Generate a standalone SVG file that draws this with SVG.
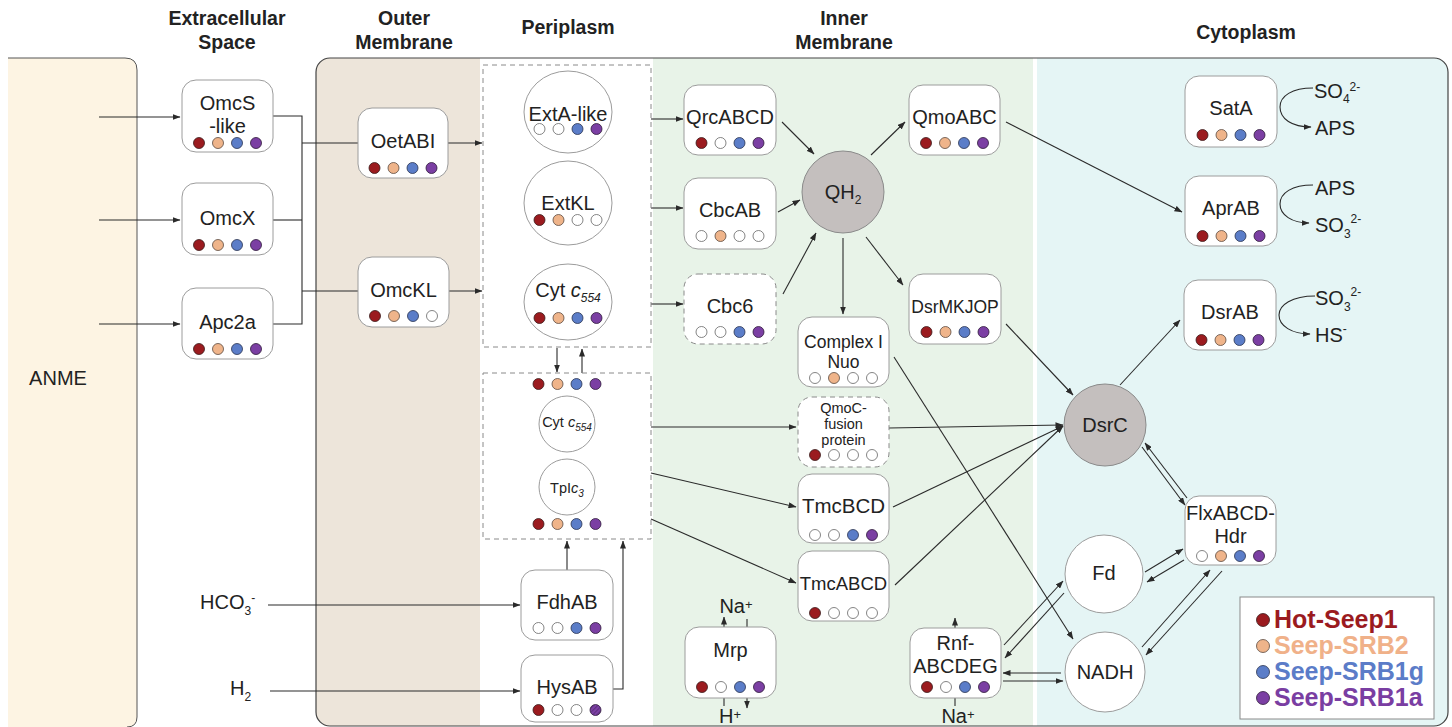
<svg xmlns="http://www.w3.org/2000/svg" width="1452" height="727" viewBox="0 0 1452 727">
<style>
text{font-family:"Liberation Sans",Arial,Helvetica,sans-serif;fill:#222;text-anchor:middle}
.hdr{font-weight:bold;font-size:19.5px}
.n{font-size:20px}
.s{font-size:12px}
.box{fill:#fff;stroke:#9c9c9c;stroke-width:1}
.dash{stroke-dasharray:5 4;stroke:#8a8a8a}
.gr{fill:#c4bfbe;stroke:#8a8a8a;stroke-width:1}
.wc{fill:#fff;stroke:#9c9c9c;stroke-width:1}
.R{fill:#9b1b1f;stroke:#3a1a1a;stroke-width:.8}
.O{fill:#efb48a;stroke:#5a4a40;stroke-width:.8}
.B{fill:#5b7dc8;stroke:#2a3350;stroke-width:.8}
.P{fill:#7b3fa3;stroke:#2e1a3a;stroke-width:.8}
.W{fill:#fff;stroke:#666;stroke-width:.8}
.H{fill:url(#hatch);stroke:#2e1a3a;stroke-width:.8}
.c{stroke:#2a2a2a;stroke-width:1.1;fill:none}
.a{marker-end:url(#ah)}
.leg{font-weight:bold;font-size:25px;text-anchor:start}
</style>
<defs>
<marker id="ah" markerWidth="8" markerHeight="6" refX="7.5" refY="3" orient="auto" markerUnits="userSpaceOnUse">
<path d="M0,0 L8,3 L0,6 z" fill="#2a2a2a"/>
</marker>
<pattern id="hatch" width="3" height="3" patternUnits="userSpaceOnUse" patternTransform="rotate(45)">
<rect width="3" height="3" fill="#7b3fa3"/>
<line x1="0" y1="0" x2="0" y2="3" stroke="#4a2366" stroke-width="1.2"/>
</pattern>
<clipPath id="cell"><rect x="316" y="58" width="1132" height="668" rx="14"/></clipPath>
</defs>

<g id="background">
<path d="M8 58 H125 Q137 58 137 70 V717 Q137 727 127 727 H8 Z" fill="#fdf4e3" stroke="none"/>
<path d="M8 58 H125 Q137 58 137 70 V717 Q137 727 127 727" fill="none" stroke="#555" stroke-width="1"/>
<g clip-path="url(#cell)">
<rect x="316" y="58" width="164" height="670" fill="#ede5da"/>
<rect x="480" y="58" width="173" height="670" fill="#ffffff"/>
<rect x="653" y="58" width="380" height="670" fill="#e8f3e8"/>
<rect x="1033" y="58" width="4" height="670" fill="#ffffff"/>
<rect x="1037" y="58" width="412" height="670" fill="#e5f5f5"/>
</g>
<rect x="316" y="58" width="1132" height="668" rx="14" fill="none" stroke="#444" stroke-width="1.2"/>
</g>

<g id="headers">
<text class="hdr" x="227" y="25">Extracellular</text>
<text class="hdr" x="227" y="49">Space</text>
<text class="hdr" x="404" y="25">Outer</text>
<text class="hdr" x="404" y="49">Membrane</text>
<text class="hdr" x="568" y="34">Periplasm</text>
<text class="hdr" x="844" y="25">Inner</text>
<text class="hdr" x="844" y="49">Membrane</text>
<text class="hdr" x="1246" y="39">Cytoplasm</text>
</g>

<g id="labels">
<text class="n" x="58" y="385">ANME</text>
<text class="n" x="200" y="609" style="text-anchor:start">HCO<tspan class="s" dy="6">3</tspan><tspan class="s" dy="-13">-</tspan></text>
<text class="n" x="230" y="695" style="text-anchor:start">H<tspan class="s" dy="6">2</tspan></text>
</g>

<g id="connectors">
<path class="c a" d="M99 117 H180"/>
<path class="c a" d="M99 220 H180"/>
<path class="c a" d="M99 324 H180"/>
<path class="c" d="M273 116 H302 V324 H273"/>
<path class="c" d="M273 220 H302"/>
<path class="c" d="M302 143 H358"/>
<path class="c" d="M302 291 H358"/>
<path class="c a" d="M448 143 H482"/>
<path class="c a" d="M449 291 H482"/>
<path class="c a" d="M557 348 V372"/>
<path class="c a" d="M582 373 V349"/>
<path class="c a" d="M567 570 V541"/>
<path class="c a" d="M613 689 H623 V541"/>
<path class="c a" d="M268 605 H520"/>
<path class="c a" d="M270 691 H520"/>
<path class="c a" d="M651 119 H683"/>
<path class="c a" d="M651 208 H683"/>
<path class="c a" d="M651 304 H683"/>
<path class="c a" d="M782 122 L814 154"/>
<path class="c a" d="M778 212 L800 200"/>
<path class="c a" d="M783 294 L816 233"/>
<path class="c a" d="M871 155 L905 122"/>
<path class="c a" d="M843 238 V314"/>
<path class="c a" d="M866 237 L903 285"/>
<path class="c a" d="M1006 122 L1182 212"/>
<path class="c a" d="M1006 324 L1073 395"/>
<path class="c a" d="M1120 385 L1180 320"/>
<path class="c a" d="M894 357 L1073 639"/>
<path class="c a" d="M651 427 H796"/>
<path class="c a" d="M651 473 L796 507"/>
<path class="c a" d="M651 519 L796 583"/>
<path class="c a" d="M889 428 L1063 425"/>
<path class="c a" d="M893 507 L1063 426"/>
<path class="c a" d="M895 585 L1063 426"/>
<path class="c a" d="M1004 645 L1063 581"/>
<path class="c a" d="M1064 593 L1005 658"/>
<path class="c a" d="M1061 673 H1003"/>
<path class="c a" d="M1003 681 H1063"/>
<path class="c a" d="M955 628 V618"/>
<path class="c" d="M955 698 V706"/>
<path class="c a" d="M724 627 V617"/>
<path class="c" d="M747 619 V627"/>
<path class="c" d="M724 698 V706"/>
<path class="c a" d="M747 698 V708"/>
<path class="c a" d="M1142 447 L1185 505"/>
<path class="c a" d="M1187 498 L1145 443"/>
<path class="c a" d="M1145 572 L1183 549"/>
<path class="c a" d="M1184 560 L1147 582"/>
<path class="c a" d="M1142 647 L1210 570"/>
<path class="c a" d="M1222 571 L1146 655"/>
<path class="c a" d="M1313 88 C1292 88 1280 96 1280 107 C1280 119 1292 127 1311 127"/>
<path class="c a" d="M1313 185 C1292 185 1280 193 1280 204 C1280 215 1292 223 1309 223"/>
<path class="c a" d="M1315 296 C1292 296 1279 305 1279 315 C1279 326 1292 334 1310 334"/>
</g>

<g id="species-labels">
<text class="n" x="1314" y="98" style="text-anchor:start">SO<tspan class="s" dy="5">4</tspan><tspan class="s" dy="-12">2-</tspan></text>
<text class="n" x="1315" y="135" style="text-anchor:start">APS</text>
<text class="n" x="1315" y="195" style="text-anchor:start">APS</text>
<text class="n" x="1315" y="232" style="text-anchor:start">SO<tspan class="s" dy="6">3</tspan><tspan class="s" dy="-15">2-</tspan></text>
<text class="n" x="1315" y="305" style="text-anchor:start">SO<tspan class="s" dy="6">3</tspan><tspan class="s" dy="-15">2-</tspan></text>
<text class="n" x="1315" y="342" style="text-anchor:start">HS<tspan class="s" dy="-9">-</tspan></text>
<text class="n" x="736" y="613">Na<tspan font-size="13" dy="-4">+</tspan></text>
<text class="n" x="730" y="723">H<tspan font-size="13" dy="-4">+</tspan></text>
<text class="n" x="958" y="723">Na<tspan font-size="13" dy="-4">+</tspan></text>
</g>

<g id="OmcS-like"><rect class="box" x="182" y="80" width="91" height="72" rx="14"/><text class="n" x="227.5" y="110">OmcS</text><text class="n" x="227.5" y="133">-like</text>
<circle class="R" cx="199" cy="143" r="5.5"/><circle class="O" cx="218" cy="143" r="5.5"/><circle class="B" cx="237" cy="143" r="5.5"/><circle class="P" cx="256" cy="143" r="5.5"/></g>
<g id="OmcX"><rect class="box" x="182" y="183" width="91" height="72" rx="14"/><text class="n" x="227.5" y="225">OmcX</text>
<circle class="R" cx="199" cy="245" r="5.5"/><circle class="O" cx="218" cy="245" r="5.5"/><circle class="B" cx="237" cy="245" r="5.5"/><circle class="P" cx="256" cy="245" r="5.5"/></g>
<g id="Apc2a"><rect class="box" x="182" y="288" width="91" height="71" rx="14"/><text class="n" x="227.5" y="329">Apc2a</text>
<circle class="R" cx="199" cy="349" r="5.5"/><circle class="O" cx="218" cy="349" r="5.5"/><circle class="B" cx="237" cy="349" r="5.5"/><circle class="P" cx="256" cy="349" r="5.5"/></g>
<g id="OetABI"><rect class="box" x="358" y="108" width="90" height="70" rx="14"/><text class="n" x="403" y="148">OetABI</text>
<circle class="R" cx="374.5" cy="168" r="5.5"/><circle class="O" cx="393.5" cy="168" r="5.5"/><circle class="B" cx="412.5" cy="168" r="5.5"/><circle class="P" cx="431.5" cy="168" r="5.5"/></g>
<g id="OmcKL"><rect class="box" x="358" y="257" width="91" height="70" rx="14"/><text class="n" x="403.5" y="297">OmcKL</text>
<circle class="R" cx="375" cy="316" r="5.5"/><circle class="O" cx="394" cy="316" r="5.5"/><circle class="B" cx="413" cy="316" r="5.5"/><circle class="W" cx="432" cy="316" r="5.5"/></g>

<g id="periplasm-box1"><rect x="483" y="65" width="168" height="282" fill="none" class="dash" stroke-width="1"/></g>
<g id="ExtA-like"><ellipse class="wc" cx="568" cy="112" rx="44" ry="41"/><text class="n" x="568" y="121">ExtA-like</text>
<circle class="W" cx="539.5" cy="129" r="5.5"/><circle class="W" cx="558.5" cy="129" r="5.5"/><circle class="B" cx="577.5" cy="129" r="5.5"/><circle class="P" cx="596.5" cy="129" r="5.5"/></g>
<g id="ExtKL"><ellipse class="wc" cx="568" cy="203" rx="44" ry="42"/><text class="n" x="568" y="210">ExtKL</text>
<circle class="R" cx="539.5" cy="220" r="5.5"/><circle class="O" cx="558.5" cy="220" r="5.5"/><circle class="W" cx="577.5" cy="220" r="5.5"/><circle class="W" cx="596.5" cy="220" r="5.5"/></g>
<g id="Cyt-c554"><ellipse class="wc" cx="568" cy="302" rx="44" ry="38"/><text class="n" x="568" y="297">Cyt <tspan font-style="italic">c</tspan><tspan font-style="italic" class="s" dy="5">554</tspan></text>
<circle class="R" cx="539.5" cy="318" r="5.5"/><circle class="O" cx="558.5" cy="318" r="5.5"/><circle class="B" cx="577.5" cy="318" r="5.5"/><circle class="P" cx="596.5" cy="318" r="5.5"/></g>

<g id="periplasm-box2"><rect x="483" y="373" width="168" height="166" fill="none" class="dash" stroke-width="1"/>
<circle class="R" cx="538.5" cy="384" r="5.5"/><circle class="O" cx="557.5" cy="384" r="5.5"/><circle class="B" cx="576.5" cy="384" r="5.5"/><circle class="P" cx="595.5" cy="384" r="5.5"/>
<circle class="R" cx="538.5" cy="524" r="5.5"/><circle class="O" cx="557.5" cy="524" r="5.5"/><circle class="B" cx="576.5" cy="524" r="5.5"/><circle class="P" cx="595.5" cy="524" r="5.5"/></g>
<g id="Cyt-c554-small"><circle class="wc" cx="567" cy="424" r="28"/><text x="567" y="427" font-size="14.5">Cyt <tspan font-style="italic">c</tspan><tspan font-style="italic" font-size="10" dy="4">554</tspan></text></g>
<g id="TpIc3"><circle class="wc" cx="567" cy="487" r="28"/><text x="567" y="493" font-size="14.5">TpI<tspan font-style="italic">c</tspan><tspan font-style="italic" font-size="10" dy="4">3</tspan></text></g>

<g id="FdhAB"><rect class="box" x="521" y="570" width="92" height="70" rx="14"/><text class="n" x="567" y="609">FdhAB</text>
<circle class="W" cx="538.5" cy="628" r="5.5"/><circle class="W" cx="557.5" cy="628" r="5.5"/><circle class="B" cx="576.5" cy="628" r="5.5"/><circle class="P" cx="595.5" cy="628" r="5.5"/></g>
<g id="HysAB"><rect class="box" x="521" y="655" width="92" height="67" rx="14"/><text class="n" x="567" y="694">HysAB</text>
<circle class="R" cx="538.5" cy="710" r="5.5"/><circle class="W" cx="557.5" cy="710" r="5.5"/><circle class="W" cx="576.5" cy="710" r="5.5"/><circle class="H" cx="595.5" cy="710" r="5.5"/></g>

<g id="QrcABCD"><rect class="box" x="684" y="85" width="92" height="70" rx="14"/><text class="n" x="730" y="124">QrcABCD</text>
<circle class="R" cx="701.5" cy="143" r="5.5"/><circle class="W" cx="720.5" cy="143" r="5.5"/><circle class="B" cx="739.5" cy="143" r="5.5"/><circle class="P" cx="758.5" cy="143" r="5.5"/></g>
<g id="CbcAB"><rect class="box" x="684" y="178" width="92" height="71" rx="14"/><text class="n" x="730" y="217">CbcAB</text>
<circle class="W" cx="701.5" cy="236" r="5.5"/><circle class="O" cx="720.5" cy="236" r="5.5"/><circle class="W" cx="739.5" cy="236" r="5.5"/><circle class="W" cx="758.5" cy="236" r="5.5"/></g>
<g id="Cbc6"><rect class="box dash" x="684" y="274" width="92" height="70" rx="14"/><text class="n" x="730" y="313">Cbc6</text>
<circle class="W" cx="701.5" cy="332" r="5.5"/><circle class="W" cx="720.5" cy="332" r="5.5"/><circle class="B" cx="739.5" cy="332" r="5.5"/><circle class="P" cx="758.5" cy="332" r="5.5"/></g>
<g id="QH2"><circle class="gr" cx="843" cy="192" r="41"/><text class="n" x="843" y="199">QH<tspan class="s" dy="5">2</tspan></text></g>
<g id="QmoABC"><rect class="box" x="909" y="85" width="91" height="70" rx="14"/><text class="n" x="954.5" y="124">QmoABC</text>
<circle class="R" cx="926" cy="143" r="5.5"/><circle class="O" cx="945" cy="143" r="5.5"/><circle class="B" cx="964" cy="143" r="5.5"/><circle class="P" cx="983" cy="143" r="5.5"/></g>
<g id="DsrMKJOP"><rect class="box" x="909" y="274" width="92" height="70" rx="14"/><text x="955" y="313" font-size="17.5">DsrMKJOP</text>
<circle class="R" cx="926.5" cy="332" r="5.5"/><circle class="O" cx="945.5" cy="332" r="5.5"/><circle class="B" cx="964.5" cy="332" r="5.5"/><circle class="P" cx="983.5" cy="332" r="5.5"/></g>
<g id="ComplexI-Nuo"><rect class="box" x="798" y="317" width="91" height="70" rx="14"/><text x="843.5" y="348" font-size="17.5">Complex I</text><text x="843.5" y="368" font-size="17.5">Nuo</text>
<circle class="W" cx="815" cy="378" r="5.5"/><circle class="O" cx="834" cy="378" r="5.5"/><circle class="W" cx="853" cy="378" r="5.5"/><circle class="W" cx="872" cy="378" r="5.5"/></g>
<g id="QmoC-fusion"><rect class="box dash" x="798" y="397" width="91" height="70" rx="14"/><text x="843.5" y="413" font-size="14.5">QmoC-</text><text x="843.5" y="429" font-size="14.5">fusion</text><text x="843.5" y="445" font-size="14.5">protein</text>
<circle class="R" cx="815" cy="455" r="5.5"/><circle class="W" cx="834" cy="455" r="5.5"/><circle class="W" cx="853" cy="455" r="5.5"/><circle class="W" cx="872" cy="455" r="5.5"/></g>
<g id="TmcBCD"><rect class="box" x="798" y="474" width="91" height="69" rx="14"/><text x="843.5" y="513" font-size="20.5">TmcBCD</text>
<circle class="W" cx="815" cy="535" r="5.5"/><circle class="W" cx="834" cy="535" r="5.5"/><circle class="B" cx="853" cy="535" r="5.5"/><circle class="P" cx="872" cy="535" r="5.5"/></g>
<g id="TmcABCD"><rect class="box" x="798" y="551" width="91" height="70" rx="14"/><text x="843.5" y="590" font-size="18.5">TmcABCD</text>
<circle class="R" cx="815" cy="613" r="5.5"/><circle class="W" cx="834" cy="613" r="5.5"/><circle class="W" cx="853" cy="613" r="5.5"/><circle class="W" cx="872" cy="613" r="5.5"/></g>
<g id="Mrp"><rect class="box" x="685" y="627" width="91" height="71" rx="14"/><text class="n" x="730.5" y="657">Mrp</text>
<circle class="R" cx="702" cy="687" r="5.5"/><circle class="W" cx="721" cy="687" r="5.5"/><circle class="B" cx="740" cy="687" r="5.5"/><circle class="P" cx="759" cy="687" r="5.5"/></g>
<g id="Rnf-ABCDEG"><rect class="box" x="910" y="628" width="91" height="70" rx="14"/><text class="n" x="955.5" y="650">Rnf-</text><text class="n" x="955.5" y="673">ABCDEG</text>
<circle class="R" cx="927" cy="687" r="5.5"/><circle class="W" cx="946" cy="687" r="5.5"/><circle class="B" cx="965" cy="687" r="5.5"/><circle class="P" cx="984" cy="687" r="5.5"/></g>

<g id="SatA"><rect class="box" x="1185" y="76" width="92" height="71" rx="14"/><text class="n" x="1231" y="115">SatA</text>
<circle class="R" cx="1202.5" cy="135" r="5.5"/><circle class="O" cx="1221.5" cy="135" r="5.5"/><circle class="B" cx="1240.5" cy="135" r="5.5"/><circle class="P" cx="1259.5" cy="135" r="5.5"/></g>
<g id="AprAB"><rect class="box" x="1185" y="176" width="92" height="70" rx="14"/><text class="n" x="1231" y="215">AprAB</text>
<circle class="R" cx="1202.5" cy="236" r="5.5"/><circle class="O" cx="1221.5" cy="236" r="5.5"/><circle class="B" cx="1240.5" cy="236" r="5.5"/><circle class="P" cx="1259.5" cy="236" r="5.5"/></g>
<g id="DsrAB"><rect class="box" x="1184" y="280" width="92" height="70" rx="14"/><text class="n" x="1230" y="319">DsrAB</text>
<circle class="R" cx="1201.5" cy="340" r="5.5"/><circle class="O" cx="1220.5" cy="340" r="5.5"/><circle class="B" cx="1239.5" cy="340" r="5.5"/><circle class="P" cx="1258.5" cy="340" r="5.5"/></g>
<g id="DsrC"><circle class="gr" cx="1105" cy="425" r="41"/><text class="n" x="1105" y="432">DsrC</text></g>
<g id="FlxABCD-Hdr"><rect class="box" x="1185" y="496" width="91" height="69" rx="14"/><text class="n" x="1230.5" y="520">FlxABCD-</text><text class="n" x="1230.5" y="543">Hdr</text>
<circle class="W" cx="1202" cy="556" r="5.5"/><circle class="O" cx="1221" cy="556" r="5.5"/><circle class="B" cx="1240" cy="556" r="5.5"/><circle class="P" cx="1259" cy="556" r="5.5"/></g>
<g id="Fd"><circle class="wc" cx="1104" cy="574" r="39"/><text class="n" x="1104" y="580">Fd</text></g>
<g id="NADH"><circle class="wc" cx="1105" cy="672" r="40"/><text class="n" x="1105" y="679">NADH</text></g>

<g id="legend"><rect x="1240" y="597" width="194" height="122" fill="#fff" stroke="#8a8a8a" stroke-width="1"/>
<circle class="R" cx="1263" cy="620" r="6.5"/><text class="leg" x="1274" y="628" style="fill:#9b1b1f">Hot-Seep1</text>
<circle class="O" cx="1263" cy="646" r="6.5"/><text class="leg" x="1274" y="654" style="fill:#f0b189">Seep-SRB2</text>
<circle class="B" cx="1263" cy="672" r="6.5"/><text class="leg" x="1274" y="680" style="fill:#5b7cc8">Seep-SRB1g</text>
<circle class="P" cx="1263" cy="698" r="6.5"/><text class="leg" x="1274" y="706" style="fill:#7a3ea2">Seep-SRB1a</text></g>
</svg>
